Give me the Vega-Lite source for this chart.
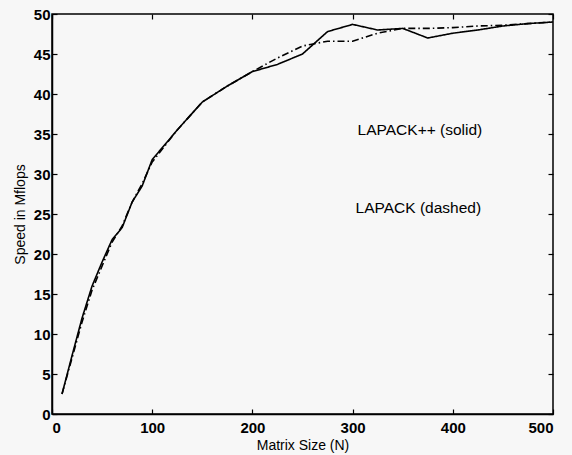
{
  "$schema": "https://vega.github.io/schema/vega-lite/v6.json",
  "width": 501,
  "height": 400,
  "autosize": {"type": "none"},
  "padding": {"left": 52, "top": 14, "right": 19, "bottom": 41},
  "background": "#f7f7f7",
  "config": {
    "font": "Liberation Sans",
    "view": {"stroke": "black", "strokeWidth": 1.5},
    "axis": {
      "grid": false,
      "domainColor": "black",
      "domainWidth": 1.5,
      "tickColor": "black",
      "tickWidth": 1.2,
      "tickSize": -5,
      "labelColor": "black",
      "labelFontSize": 15,
      "labelFontWeight": "bold",
      "labelFont": "Liberation Sans",
      "titleColor": "black",
      "titleFontSize": 14,
      "titleFontWeight": "normal",
      "titleFont": "Liberation Sans"
    }
  },
  "datasets": {
    "perf": [
      {"N": 10, "speed": 2.5, "series": "LAPACK++"},
      {"N": 20, "speed": 7.3, "series": "LAPACK++"},
      {"N": 30, "speed": 12.0, "series": "LAPACK++"},
      {"N": 40, "speed": 16.0, "series": "LAPACK++"},
      {"N": 50, "speed": 19.0, "series": "LAPACK++"},
      {"N": 60, "speed": 21.8, "series": "LAPACK++"},
      {"N": 70, "speed": 23.3, "series": "LAPACK++"},
      {"N": 80, "speed": 26.5, "series": "LAPACK++"},
      {"N": 90, "speed": 28.5, "series": "LAPACK++"},
      {"N": 100, "speed": 31.8, "series": "LAPACK++"},
      {"N": 125, "speed": 35.5, "series": "LAPACK++"},
      {"N": 150, "speed": 39.0, "series": "LAPACK++"},
      {"N": 175, "speed": 41.0, "series": "LAPACK++"},
      {"N": 200, "speed": 42.8, "series": "LAPACK++"},
      {"N": 225, "speed": 43.7, "series": "LAPACK++"},
      {"N": 250, "speed": 45.0, "series": "LAPACK++"},
      {"N": 275, "speed": 47.8, "series": "LAPACK++"},
      {"N": 300, "speed": 48.7, "series": "LAPACK++"},
      {"N": 325, "speed": 48.0, "series": "LAPACK++"},
      {"N": 350, "speed": 48.2, "series": "LAPACK++"},
      {"N": 375, "speed": 47.0, "series": "LAPACK++"},
      {"N": 400, "speed": 47.6, "series": "LAPACK++"},
      {"N": 425, "speed": 48.0, "series": "LAPACK++"},
      {"N": 450, "speed": 48.5, "series": "LAPACK++"},
      {"N": 475, "speed": 48.8, "series": "LAPACK++"},
      {"N": 500, "speed": 49.0, "series": "LAPACK++"},
      {"N": 10, "speed": 2.5, "series": "LAPACK"},
      {"N": 20, "speed": 7.0, "series": "LAPACK"},
      {"N": 30, "speed": 11.5, "series": "LAPACK"},
      {"N": 40, "speed": 15.5, "series": "LAPACK"},
      {"N": 50, "speed": 18.5, "series": "LAPACK"},
      {"N": 60, "speed": 21.5, "series": "LAPACK"},
      {"N": 70, "speed": 23.5, "series": "LAPACK"},
      {"N": 80, "speed": 26.5, "series": "LAPACK"},
      {"N": 90, "speed": 28.8, "series": "LAPACK"},
      {"N": 100, "speed": 31.5, "series": "LAPACK"},
      {"N": 125, "speed": 35.5, "series": "LAPACK"},
      {"N": 150, "speed": 39.0, "series": "LAPACK"},
      {"N": 175, "speed": 41.0, "series": "LAPACK"},
      {"N": 200, "speed": 42.8, "series": "LAPACK"},
      {"N": 225, "speed": 44.5, "series": "LAPACK"},
      {"N": 250, "speed": 46.0, "series": "LAPACK"},
      {"N": 275, "speed": 46.6, "series": "LAPACK"},
      {"N": 300, "speed": 46.6, "series": "LAPACK"},
      {"N": 325, "speed": 47.6, "series": "LAPACK"},
      {"N": 350, "speed": 48.2, "series": "LAPACK"},
      {"N": 375, "speed": 48.2, "series": "LAPACK"},
      {"N": 400, "speed": 48.3, "series": "LAPACK"},
      {"N": 425, "speed": 48.5, "series": "LAPACK"},
      {"N": 450, "speed": 48.6, "series": "LAPACK"},
      {"N": 475, "speed": 48.8, "series": "LAPACK"},
      {"N": 500, "speed": 49.0, "series": "LAPACK"}
    ],
    "notes": [
      {"x": 305, "y": 35.5, "label": "LAPACK++ (solid)"},
      {"x": 303, "y": 25.75, "label": "LAPACK (dashed)"}
    ]
  },
  "layer": [
    {
      "data": {"name": "perf"},
      "mark": {"type": "line", "color": "black", "strokeWidth": 1.6},
      "encoding": {
        "x": {
          "field": "N", "type": "quantitative",
          "scale": {"domain": [0, 500], "nice": false},
          "axis": {"orient": "bottom", "values": [0, 100, 200, 300, 400, 500], "format": "d", "labelPadding": 11, "title": "Matrix Size (N)", "titlePadding": 3}
        },
        "y": {
          "field": "speed", "type": "quantitative",
          "scale": {"domain": [0, 50], "nice": false},
          "axis": {"orient": "left", "values": [0, 5, 10, 15, 20, 25, 30, 35, 40, 45, 50], "format": "d", "labelPadding": 7, "title": "Speed in Mflops", "titlePadding": 6}
        },
        "strokeDash": {
          "field": "series", "type": "nominal",
          "scale": {"domain": ["LAPACK++", "LAPACK"], "range": [[1, 0], [7, 3, 1.5, 3]]},
          "legend": null
        }
      }
    },
    {
      "data": {"name": "notes"},
      "mark": {"type": "text", "align": "left", "baseline": "middle", "fontSize": 15.5, "font": "Liberation Sans", "color": "black"},
      "encoding": {
        "x": {
          "field": "x", "type": "quantitative",
          "scale": {"domain": [0, 500], "nice": false},
          "axis": {"orient": "top", "values": [0, 100, 200, 300, 400, 500], "labels": false, "domain": false, "title": null}
        },
        "y": {
          "field": "y", "type": "quantitative",
          "scale": {"domain": [0, 50], "nice": false},
          "axis": {"orient": "right", "values": [0, 5, 10, 15, 20, 25, 30, 35, 40, 45, 50], "labels": false, "domain": false, "title": null}
        },
        "text": {"field": "label"}
      }
    }
  ],
  "resolve": {"scale": {"x": "independent", "y": "independent"}, "axis": {"x": "independent", "y": "independent"}}
}
